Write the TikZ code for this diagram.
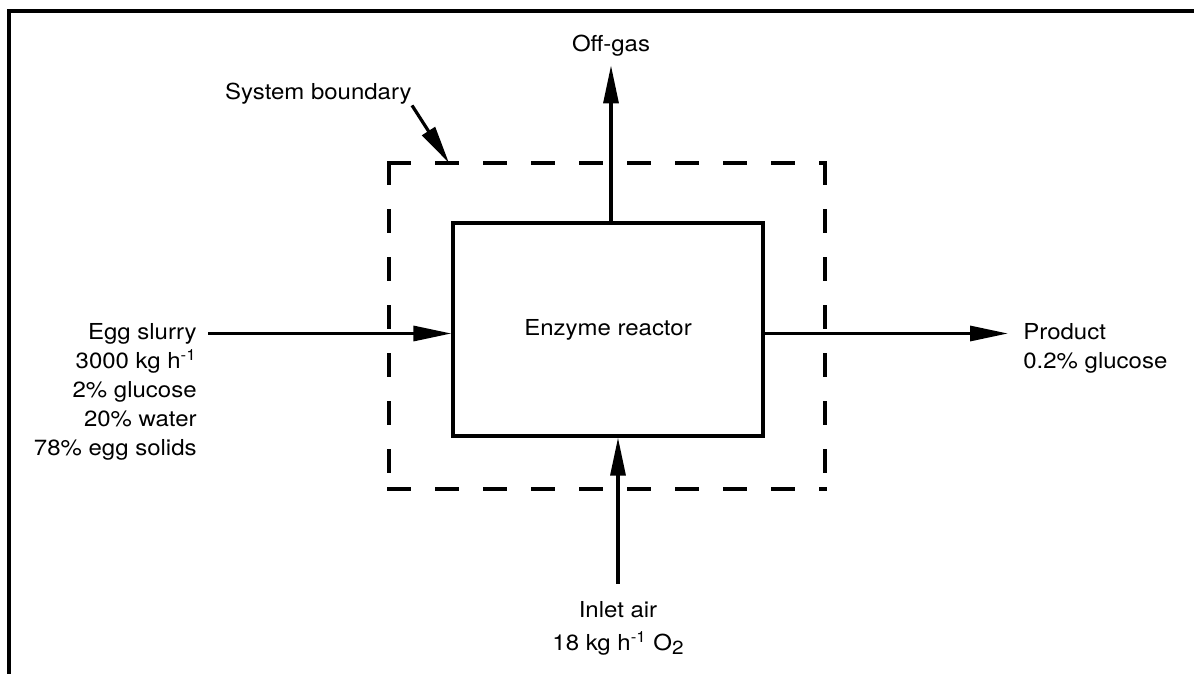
\documentclass[tikz,border=0pt]{standalone}
\usepackage{fontspec}
\setmainfont{TeX Gyre Heros}[FakeStretch=1.09]
\usetikzlibrary{arrows.meta,calc}
\begin{document}
\begin{tikzpicture}[x=0.5pt,y=-0.5pt,
  lbl/.style={font=\fontsize{11}{14.65}\selectfont, inner sep=0pt, text height=8pt, text depth=2.5pt},
  data/.style={font=\fontsize{11}{14.65}\selectfont, inner sep=0pt},
  flow/.style={line width=1.6pt, -{Triangle[length=19pt,width=7.5pt]}},
  reactorbox/.style={draw, line width=1.6pt, minimum width=155pt, minimum height=106.5pt, inner sep=0pt, font=\fontsize{11}{14.65}\selectfont},
  bound/.style={line width=1.6pt, line cap=rect, dash pattern=on 10.4pt off 13.6pt},
  frameline/.style={line width=1.6pt}]
\useasboundingbox (0,0) rectangle (1194,674);
\fill[white] (0,0) rectangle (1194,674);
% frame
\draw[frameline] (9,690) -- (9,11) -- (1210,11);
% reactor and boundary
\node[reactorbox] (reactor) at (608,329.5) {Enzyme reactor};
\node[minimum width=218pt, minimum height=163pt, inner sep=0pt, outer sep=0pt] (boundary) at (607,326) {};
\draw[bound] (boundary.north west) -- (boundary.north east)
             (boundary.south west) -- (boundary.south east)
             (boundary.north west) -- (boundary.south west)
             (boundary.north east) -- (boundary.south east);
% labels
\node[lbl, anchor=base east] (sysb) at (412,100) {System boundary};
\coordinate (bpt) at ($(boundary.north west)+(60,0)$);
\node[lbl, anchor=base, inner ysep=4pt] (offgas) at (611,52) {Off-gas};
\node[lbl, anchor=base east, inner xsep=5.5pt] (slurry) at (208,339) {Egg slurry};
\node[data, anchor=base east] (slurrydata) at (197,368) {\begin{tabular}[t]{@{}r@{}}3000 kg h\textsuperscript{-1}\\2\% glucose\\20\% water\\78\% egg solids\end{tabular}};
\node[lbl, anchor=base west, inner xsep=7.5pt] (product) at (1008,339) {Product};
\node[data, anchor=base west] (productdata) at (1023,368) {0.2\% glucose};
\node[data, anchor=base, inner ysep=6.25pt] (inlet) at (618,617) {\begin{tabular}[t]{@{}c@{}}Inlet air\\[2pt]18 kg h\textsuperscript{-1} O\raisebox{-0.4ex}{\fontsize{9.5}{10}\selectfont 2}\end{tabular}};
% connectors
\draw[flow] (sysb.south east) -- (bpt);
\draw[flow] (slurry.east) -- (slurry.east -| reactor.west);
\draw[flow] (reactor.east |- product.west) -- (product.west);
\draw[flow] (reactor.north -| offgas.south) -- (offgas.south);
\draw[flow] (inlet.north) -- (reactor.south -| inlet.north);
\end{tikzpicture}
\end{document}
